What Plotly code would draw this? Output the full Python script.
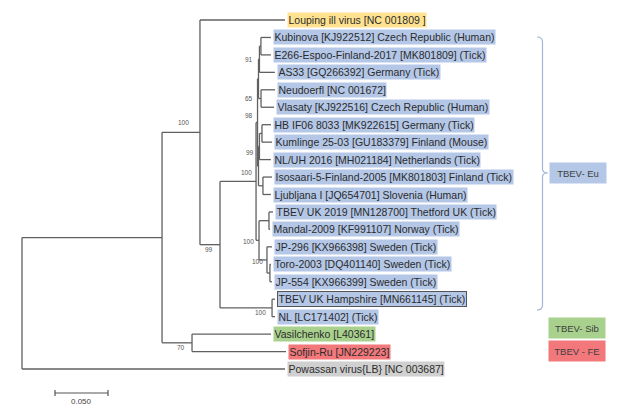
import plotly.graph_objects as go

# ---------------- data ----------------
# tree: node name, parent, branch length (substitutions/site)
node_names = ["root", "N1", "Powassan", "A", "SF", "Vasilchenko", "Sofjin", "Louping", "B",
              "C", "D", "Hampshire", "NL", "E", "F", "X", "Y", "G", "H", "KE",
              "Kubinova", "E266", "AS33", "Neudoerfl", "Vlasaty", "Y1", "HK", "HB", "Kumlinge",
              "NLUH", "IL", "Isosaari", "Ljubljana", "UKM", "UK2019", "Mandal", "JPn",
              "JP296", "TJ", "Toro", "JP554"]
node_parents = [None, "root", "root", "N1", "N1", "SF", "SF", "A", "A",
                "B", "B", "D", "D", "C", "C", "E", "E", "X", "X", "G",
                "KE", "KE", "G", "H", "H", "Y", "Y1", "HK", "HK",
                "Y1", "Y", "IL", "IL", "F", "UKM", "UKM", "F",
                "JPn", "JPn", "TJ", "TJ"]
branch_lengths = [0.0, 0.1321, 0.2481, 0.0358, 0.0283, 0.0745, 0.0887, 0.0802, 0.0189,
                  0.0340, 0.0491, 0.0028, 0.0028, 0.0014, 0.0028, 0.0009, 0.0009, 0.0009, 0.0024, 0.0014,
                  0.0094, 0.0094, 0.0146, 0.0132, 0.0123, 0.0009, 0.0024, 0.0085, 0.0094,
                  0.0108, 0.0042, 0.0085, 0.0075, 0.0094, 0.0038, 0.0009, 0.0075,
                  0.0047, 0.0028, 0.0009, 0.0019]

# leaves, top to bottom, with their labels and group
leaf_order = ["Louping", "Kubinova", "E266", "AS33", "Neudoerfl", "Vlasaty", "HB", "Kumlinge",
              "NLUH", "Isosaari", "Ljubljana", "UK2019", "Mandal", "JP296", "Toro", "JP554",
              "Hampshire", "NL", "Vasilchenko", "Sofjin", "Powassan"]
leaf_labels = ["Louping ill virus [NC 001809 ]",
               "Kubinova [KJ922512] Czech Republic (Human)",
               "E266-Espoo-Finland-2017 [MK801809] (Tick)",
               "AS33 [GQ266392] Germany (Tick)",
               "Neudoerfl [NC 001672]",
               "Vlasaty [KJ922516] Czech Republic (Human)",
               "HB IF06 8033 [MK922615] Germany (Tick)",
               "Kumlinge 25-03 [GU183379] Finland (Mouse)",
               "NL/UH 2016 [MH021184] Netherlands (Tick)",
               "Isosaari-5-Finland-2005 [MK801803] Finland (Tick)",
               "Ljubljana I [JQ654701] Slovenia (Human)",
               "TBEV UK 2019 [MN128700] Thetford UK (Tick)",
               "Mandal-2009 [KF991107] Norway (Tick)",
               "JP-296 [KX966398] Sweden (Tick)",
               "Toro-2003 [DQ401140] Sweden (Tick)",
               "JP-554 [KX966399] Sweden (Tick)",
               "TBEV UK Hampshire [MN661145] (Tick)",
               "NL [LC171402] (Tick)",
               "Vasilchenko [L40361]",
               "Sofjin-Ru [JN229223]",
               "Powassan virus{LB} [NC 003687]"]
leaf_groups = ["LIV"] + ["Eu"] * 17 + ["Sib", "FE", "POW"]

bootstrap_nodes = ["A", "B", "C", "E", "G", "H", "Y1", "F", "JPn", "D", "SF"]
bootstrap_values = [100, 99, 100, 98, 91, 65, 99, 100, 100, 100, 70]

group_names = ["TBEV- Eu", "TBEV- Sib", "TBEV - FE"]
scale_length = 0.05
scale_label = "0.050"

# ---------------- styling ----------------
W, H = 625, 416
PX_PER_UNIT = 1060.0
ROOT_PX = 22.0
TOP_PX, ROW_PX = 20.0, 17.45
group_colors = {"LIV": "#ffe28f", "Eu": "#b4c7e7", "Sib": "#a9d18e", "FE": "#f2787b", "POW": "#d0d0d0"}
right_box_colors = ["#b4c7e7", "#a9d18e", "#f2787b"]
# label offsets (px) relative to node: (dx of right edge, dy down)
boot_offsets = {"A": (-9, -10), "B": (-5, 5), "C": (-2, -9), "E": (-3, -7), "G": (-4, 0),
                "H": (-6, 0), "Y1": (-3, 6), "F": (-3, 1), "JPn": (-2, 2), "D": (-4, 5), "SF": (-5, 5)}
LINE_COLOR = "#606060"

# ---------------- tree layout ----------------
parent_of = dict(zip(node_names, node_parents))
blen = dict(zip(node_names, branch_lengths))
children = {n: [] for n in node_names}
for n, p in zip(node_names, node_parents):
    if p is not None:
        children[p].append(n)

xpos = {}
def set_x(n, base):
    xpos[n] = base + blen[n]
    for c in children[n]:
        set_x(c, xpos[n])
set_x("root", 0.0)

ypos = {}
for i, n in enumerate(leaf_order):
    ypos[n] = float(i)
def set_y(n):
    if n in ypos:
        return ypos[n]
    ys = [set_y(c) for c in children[n]]
    ypos[n] = sum(ys) / len(ys)
    return ypos[n]
set_y("root")

lx, ly = [], []
for n in node_names:
    p = parent_of[n]
    if p is not None:
        lx += [xpos[p], xpos[n], None]
        ly += [ypos[n], ypos[n], None]
    if children[n]:
        cys = [ypos[c] for c in children[n]]
        lx += [xpos[n], xpos[n], None]
        ly += [min(cys), max(cys), None]

fig = go.Figure()
fig.add_trace(go.Scatter(x=lx, y=ly, mode="lines", line=dict(color=LINE_COLOR, width=1.3),
                         hoverinfo="skip", showlegend=False))

xr = [(0 - ROOT_PX) / PX_PER_UNIT, (W - ROOT_PX) / PX_PER_UNIT]
yr = [(H - TOP_PX) / ROW_PX, (0 - TOP_PX) / ROW_PX]

annotations = []
# tip labels
for n, lab, g in zip(leaf_order, leaf_labels, leaf_groups):
    annotations.append(dict(x=xpos[n], y=ypos[n], text=lab, showarrow=False,
                            xanchor="left", yanchor="middle", xshift=2, height=12.5,
                            font=dict(family="Liberation Sans, Arial", size=10.5, color="#2b2b2b"),
                            bgcolor=group_colors[g], borderpad=0.5,
                            bordercolor="#555555" if n == "Hampshire" else "rgba(0,0,0,0)",
                            borderwidth=1))
# bootstrap labels
for n, v in zip(bootstrap_nodes, bootstrap_values):
    dx, dy = boot_offsets[n]
    annotations.append(dict(x=xpos[n], y=ypos[n], text=str(v), showarrow=False,
                            xanchor="right", yanchor="middle", xshift=dx, yshift=-dy,
                            font=dict(family="Liberation Sans, Arial", size=6.5, color="#555555")))

# scale bar
sb_x0 = (55 - ROOT_PX) / PX_PER_UNIT
sb_y = (393 - TOP_PX) / ROW_PX
tick = 3.0 / ROW_PX
shapes = [
    dict(type="line", x0=sb_x0, x1=sb_x0 + scale_length, y0=sb_y, y1=sb_y, xref="x", yref="y",
         line=dict(color="#555555", width=1.2)),
    dict(type="line", x0=sb_x0, x1=sb_x0, y0=sb_y - tick, y1=sb_y + tick, xref="x", yref="y",
         line=dict(color="#555555", width=1.2)),
    dict(type="line", x0=sb_x0 + scale_length, x1=sb_x0 + scale_length, y0=sb_y - tick, y1=sb_y + tick,
         xref="x", yref="y", line=dict(color="#555555", width=1.2)),
]
annotations.append(dict(x=sb_x0 + scale_length / 2, y=(401 - TOP_PX) / ROW_PX, text=scale_label,
                        showarrow=False, xanchor="center", yanchor="middle",
                        font=dict(family="Liberation Sans, Arial", size=8, color="#444444")))

# brace for TBEV-Eu (paper coordinates)
def px(xp): return xp / W
def py(yp): return 1 - yp / H
top, mid, bot = 37.0, 173.0, 310.0
xa, xb, xc = 537.0, 542.5, 548.0
path = (f"M {px(xa)},{py(top)} Q {px(xb)},{py(top)} {px(xb)},{py(top + 5)} "
        f"L {px(xb)},{py(mid - 4)} Q {px(xb)},{py(mid)} {px(xc)},{py(mid)} "
        f"Q {px(xb)},{py(mid)} {px(xb)},{py(mid + 4)} "
        f"L {px(xb)},{py(bot - 5)} Q {px(xb)},{py(bot)} {px(xa)},{py(bot)}")
shapes.append(dict(type="path", path=path, xref="paper", yref="paper",
                   line=dict(color="#a3b6d8", width=1.2)))

# group boxes
box_centers = [(578, 173), (577, 327.5), (577, 350.5)]
for name, col, (cx, cy) in zip(group_names, right_box_colors, box_centers):
    annotations.append(dict(x=px(cx), y=py(cy), xref="paper", yref="paper", text=name,
                            showarrow=False, xanchor="center", yanchor="middle",
                            width=56, height=20, bgcolor=col, borderpad=0,
                            font=dict(family="Liberation Sans, Arial", size=9.5, color="#404040")))

fig.update_layout(
    width=W, height=H, margin=dict(l=0, r=0, t=0, b=0),
    paper_bgcolor="white", plot_bgcolor="white",
    xaxis=dict(range=xr, visible=False, fixedrange=True),
    yaxis=dict(range=yr, visible=False, fixedrange=True),
    annotations=annotations, shapes=shapes, showlegend=False,
)
fig.write_html("out.html", config={"displayModeBar": False},
               post_script="document.body.style.margin='0';")
